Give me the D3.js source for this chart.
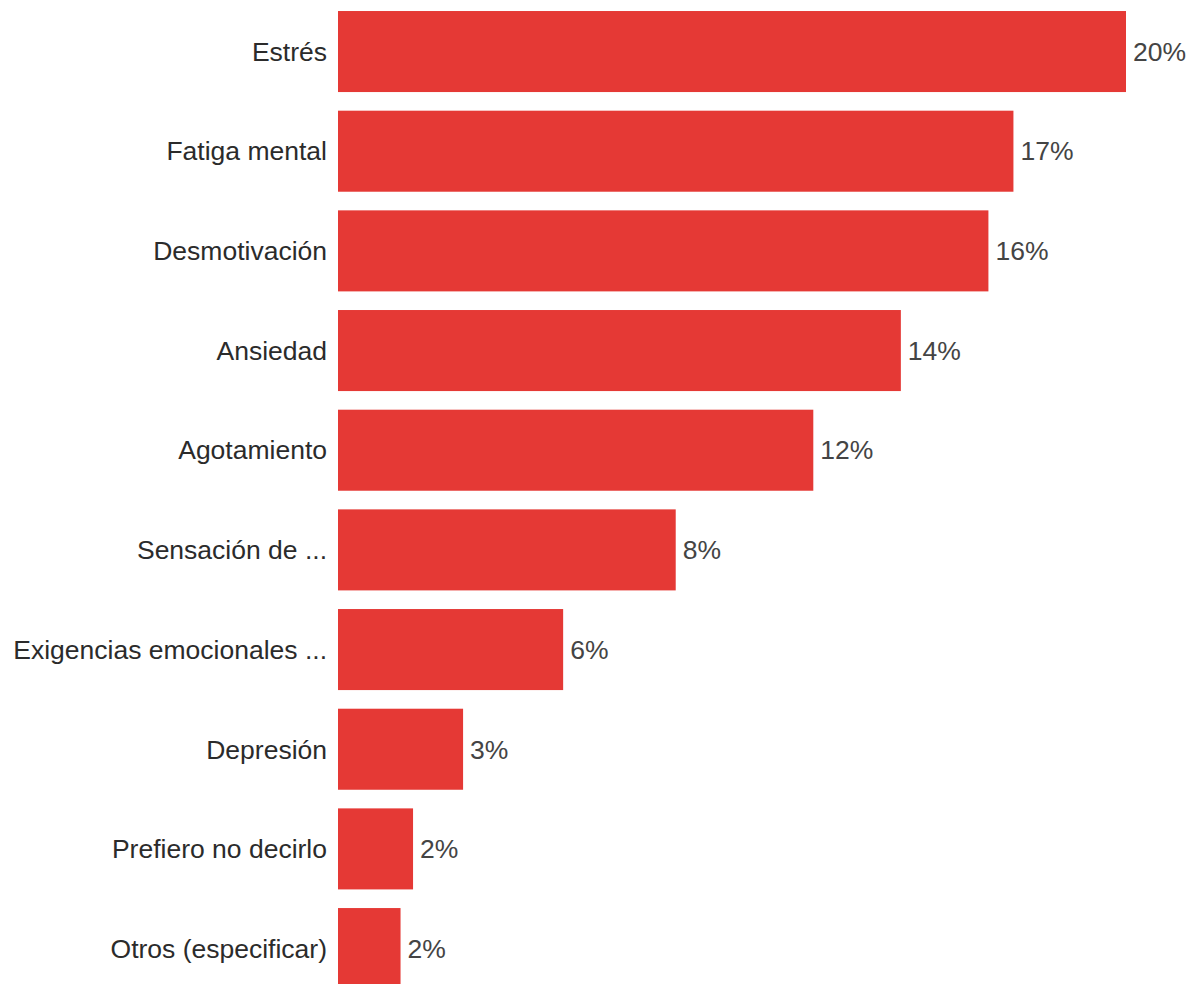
<!DOCTYPE html>
<html>
<head>
<meta charset="utf-8">
<script src="https://cdn.jsdelivr.net/npm/d3@7"></script>
<style>
  html, body { margin: 0; padding: 0; background: #fff; overflow: hidden; }
  svg { display: block; }
</style>
</head>
<body>
<svg id="chart" width="1196" height="984"></svg>
<script>
const categories = ["Estrés", "Fatiga mental", "Desmotivación", "Ansiedad", "Agotamiento",
  "Sensación de ...", "Exigencias emocionales ...", "Depresión", "Prefiero no decirlo", "Otros (especificar)"];
const counts = [63, 54, 52, 45, 38, 27, 18, 10, 6, 5];
const valueLabels = ["20%", "17%", "16%", "14%", "12%", "8%", "6%", "3%", "2%", "2%"];

const svg = d3.select("#chart");
const x = d3.scaleLinear().domain([0, 63]).range([338, 1126]);
const y = d3.scaleBand().domain(categories).range([1.7, 998.4]).paddingInner(0.187).paddingOuter(0.0935);

const font = "'Liberation Sans', Arial, sans-serif";

svg.selectAll("rect.bar").data(categories).join("rect")
  .attr("class", "bar")
  .attr("x", x(0))
  .attr("y", d => y(d))
  .attr("width", (d, i) => x(counts[i]) - x(0))
  .attr("height", y.bandwidth())
  .attr("fill", "#e53935");

svg.selectAll("text.cat").data(categories).join("text")
  .attr("class", "cat")
  .attr("x", x(0) - 11)
  .attr("y", d => y(d) + y.bandwidth() / 2)
  .attr("dy", "0.35em")
  .attr("text-anchor", "end")
  .attr("font-family", font)
  .attr("font-size", 26.5)
  .attr("fill", "#2b2b2b")
  .text(d => d);

svg.selectAll("text.val").data(categories).join("text")
  .attr("class", "val")
  .attr("x", (d, i) => x(counts[i]) + 7)
  .attr("y", d => y(d) + y.bandwidth() / 2)
  .attr("dy", "0.35em")
  .attr("text-anchor", "start")
  .attr("font-family", font)
  .attr("font-size", 26.5)
  .attr("fill", "#444")
  .text((d, i) => valueLabels[i]);
</script>
</body>
</html>
